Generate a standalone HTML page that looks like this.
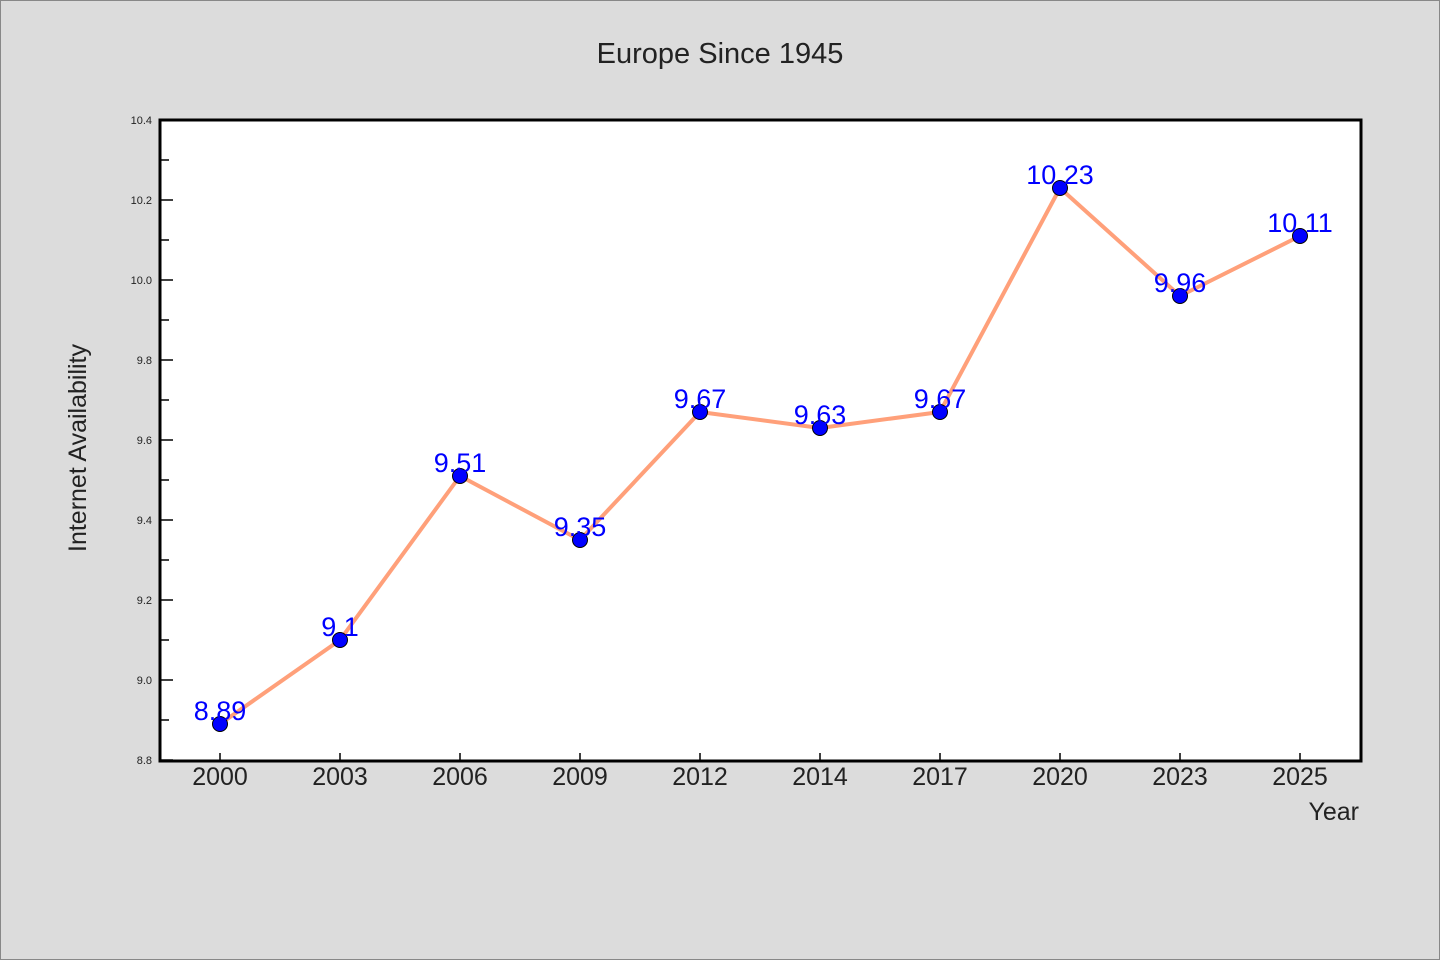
<!DOCTYPE html>
<html><head><meta charset="utf-8"><style>
body{margin:0;background:#dcdcdc;}
svg{display:block;font-family:"WenQuanYi Zen Hei","Liberation Sans",sans-serif;}
</style></head><body>
<svg id="chart" width="1440" height="960" viewBox="0 0 1440 960">
<rect x="0.5" y="0.5" width="1439" height="959" fill="#dcdcdc" stroke="#888"/>
<text x="720" y="63" text-anchor="middle" font-size="29" fill="#222">Europe Since 1945</text>
<rect x="160" y="120" width="1201" height="641" fill="#fff"/>
<g id="axes"></g>
<g id="series"></g>
<rect x="160" y="120" width="1201" height="641" fill="none" stroke="#000" stroke-width="3"/>
<text x="86" y="448" text-anchor="middle" font-size="25" fill="#222" transform="rotate(-90 86 448)">Internet Availability</text>
<text x="1359" y="820" text-anchor="end" font-size="25" fill="#222">Year</text>
</svg>
<script>
const categories=["2000","2003","2006","2009","2012","2014","2017","2020","2023","2025"];
const values=[8.89,9.1,9.51,9.35,9.67,9.63,9.67,10.23,9.96,10.11];
const valueLabels=["8.89","9.1","9.51","9.35","9.67","9.63","9.67","10.23","9.96","10.11"];
const yTicks=[8.8,9.0,9.2,9.4,9.6,9.8,10.0,10.2,10.4];
const yMin=8.8,yMax=10.4;
const NS="http://www.w3.org/2000/svg";
function X(i){return 220+i*120;}
function Y(v){return 760-(v-yMin)/(yMax-yMin)*640;}
function mk(t,a,p){const e=document.createElementNS(NS,t);for(const k in a)e.setAttribute(k,a[k]);p.appendChild(e);return e;}
const ax=document.getElementById('axes'),se=document.getElementById('series');
yTicks.forEach((v,i)=>{
 const t=mk('line',{x1:160,x2:173,y1:Y(v),y2:Y(v),stroke:'#000','stroke-width':1.5},ax);
 
 
 const l=mk('text',{x:152,y:Y(v)+4,'text-anchor':'end','font-size':11,fill:'#222'},ax);
 l.textContent=v.toFixed(1);
 
 
 if(i<yTicks.length-1){const m=(v+yTicks[i+1])/2;
 const mt=mk('line',{x1:160,x2:169,y1:Y(m),y2:Y(m),stroke:'#000','stroke-width':1.5},ax);
 
 }
});
categories.forEach((c,i)=>{
 const t=mk('line',{x1:X(i),x2:X(i),y1:760,y2:753,stroke:'#000','stroke-width':1.5},ax);
 
 
 const l=mk('text',{x:X(i),y:785,'text-anchor':'middle','font-size':25,fill:'#222'},ax);
 l.textContent=c;
 
 
});
const line=mk('polyline',{points:values.map((v,i)=>X(i)+','+Y(v)).join(' '),fill:'none',stroke:'#ffa07a','stroke-width':4,'stroke-linejoin':'round'},se);


values.forEach((v,i)=>{
 const p=mk('circle',{cx:X(i),cy:Y(v),r:7.5,fill:'#0000ff',stroke:'#000','stroke-width':1},se);
 
 
});
values.forEach((v,i)=>{
 const l=mk('text',{x:X(i),y:Y(v)-4,'text-anchor':'middle','font-size':27,fill:'#0000ff'},se);
 l.textContent=valueLabels[i];
 
 
});
</script>
</body></html>
